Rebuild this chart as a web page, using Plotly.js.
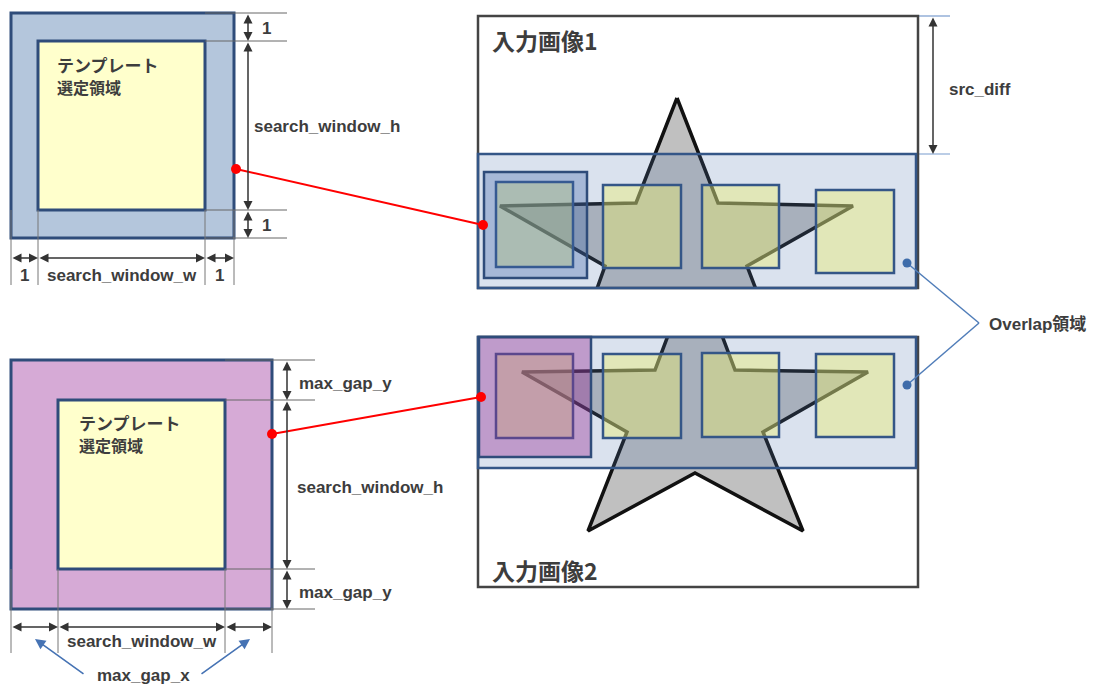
<!DOCTYPE html>
<html><head><meta charset="utf-8">
<script src="https://cdn.plot.ly/plotly-3.0.1.min.js"></script>
<style>html,body{margin:0;padding:0;background:#fff}#c{width:1096px;height:685px}</style>
</head><body><div id="c"></div>
<script>
// ---- diagram values (pixel-like units; y grows downward) ----
// rectangles as [x0, y0, x1, y1]
const tplOuterA = [11, 13, 234, 238];
const tplInnerA = [38, 41, 205, 210];
const tplOuterB = [11, 360, 272, 609];
const tplInnerB = [58, 400, 225, 569];
const img1 = [478, 16, 918, 288];
const img2 = [478, 337, 918, 587];
const overlap1 = [478, 154, 916, 288];
const overlap2 = [478, 337, 916, 468];
const win1 = [484, 172, 587, 278];
const win2 = [479, 337, 591, 457];
const tplX0 = [496, 603, 702, 816];
const tplX1 = [573, 681, 779, 894];
const tplY0img1 = [182, 185, 185, 190];
const tplY1img1 = [267, 268, 268, 273];
const tplY0img2 = [354, 354, 353, 354];
const tplY1img2 = [438, 438, 437, 437];
// star outlines
const star1X = [677, 718, 853, 747, 785, 677, 570, 605, 500, 636, 677];
const star1Y = [98, 203, 206, 266, 365, 307, 365, 266, 206, 203, 98];
const star2X = [695, 735, 868, 763, 803, 695, 588, 627, 522, 655, 695];
const star2Y = [264, 370, 372, 432, 531, 473, 531, 432, 372, 370, 264];
// dimension lines
const dimAx = [248, 248, 248];
const dimAy0 = [13, 41, 210];
const dimAy1 = [41, 210, 238];
const dimAxLabels = ['1', 'search_window_h', '1'];
const dimAhx0 = [11, 38, 205];
const dimAhx1 = [38, 205, 234];
const dimAhy = 258;
const dimAhLabels = ['1', 'search_window_w', '1'];
const dimBx = 287;
const dimBy0 = [360, 400, 569];
const dimBy1 = [400, 569, 609];
const dimBvLabels = ['max_gap_y', 'search_window_h', 'max_gap_y'];
const dimBhx0 = [11, 58, 225];
const dimBhx1 = [58, 225, 272];
const dimBhy = 627;
const srcDiff = [933, 16, 154];
// connectors
const redA = [[236, 169], [483, 225]];
const redB = [[272, 434], [481, 397]];
const blueDots = [[907, 263], [907, 385]];
const blueVertex = [979, 323];
const gapArrowTails = [[85, 675], [200, 675]];
const gapArrowHeads = [[35, 639], [250, 639]];

const NAVY = 'rgb(47,76,122)';
const TXT = '#3d3d3d';
const FONT = 'Liberation Sans, Arial, Noto Sans CJK JP, sans-serif';
const CJK = 'Noto Sans CJK JP, Liberation Sans, sans-serif';

const shapes = [];
function rect(r, fill, lc, lw) {
  shapes.push({type: 'rect', xref: 'x', yref: 'y', layer: 'above', x0: r[0], y0: r[1], x1: r[2], y1: r[3],
    fillcolor: fill, line: {color: lc, width: lw}});
}
function line(x0, y0, x1, y1, c, w) {
  shapes.push({type: 'line', xref: 'x', yref: 'y', layer: 'above', x0, y0, x1, y1, line: {color: c, width: w}});
}
function dot(p, r, c) {
  shapes.push({type: 'circle', xref: 'x', yref: 'y', layer: 'above', x0: p[0] - r, y0: p[1] - r, x1: p[0] + r, y1: p[1] + r,
    fillcolor: c, line: {width: 0}});
}

rect(tplOuterA, 'rgb(180,198,220)', NAVY, 3);
rect(tplInnerA, '#ffffcc', NAVY, 3);
rect(tplOuterB, 'rgb(214,170,214)', NAVY, 3);
rect(tplInnerB, '#ffffcc', NAVY, 3);

[tplOuterA[1], tplInnerA[1], tplInnerA[3], tplOuterA[3]].forEach(y => line(tplInnerA[2], y, 287, y, '#666', 1));
[tplOuterA[0], tplInnerA[0], tplInnerA[2], tplOuterA[2]].forEach(x => line(x, tplInnerA[3], x, 285, '#777', 1));
[tplOuterB[1], tplInnerB[1], tplInnerB[3], tplOuterB[3]].forEach(y => line(tplInnerB[2], y, 315, y, '#666', 1));
[tplOuterB[0], tplInnerB[0], tplInnerB[2], tplOuterB[2]].forEach(x => line(x, tplInnerB[3], x, 653, '#777', 1));
line(img1[2], srcDiff[1], 950, srcDiff[1], 'rgb(120,155,205)', 1.2);
line(overlap1[2], srcDiff[2], 950, srcDiff[2], 'rgb(120,155,205)', 1.2);

rect(img1, 'rgba(0,0,0,0)', '#444', 2.5);
rect(img2, 'rgba(0,0,0,0)', '#444', 2.5);
rect(overlap1, 'rgba(78,116,173,0.21)', 'rgb(52,86,135)', 2.5);
rect(overlap2, 'rgba(78,116,173,0.21)', 'rgb(52,86,135)', 2.5);
for (let i = 0; i < tplX0.length; i++) {
  rect([tplX0[i], tplY0img1[i], tplX1[i], tplY1img1[i]], 'rgba(235,238,110,0.42)', 'rgb(52,86,135)', 2.5);
  rect([tplX0[i], tplY0img2[i], tplX1[i], tplY1img2[i]], 'rgba(235,238,110,0.42)', 'rgb(52,86,135)', 2.5);
}
rect(win1, 'rgba(60,100,170,0.33)', 'rgb(47,76,122)', 2.5);
rect(win2, 'rgba(150,50,150,0.4)', 'rgb(47,76,122)', 2.5);

line(redA[0][0], redA[0][1], redA[1][0], redA[1][1], '#ff0000', 2);
line(redB[0][0], redB[0][1], redB[1][0], redB[1][1], '#ff0000', 2);
[redA[0], redA[1], redB[0], redB[1]].forEach(p => dot(p, 5, '#ff0000'));
blueDots.forEach(p => line(p[0], p[1], blueVertex[0], blueVertex[1], 'rgb(80,125,185)', 1.5));
blueDots.forEach(p => dot(p, 4.5, 'rgb(62,108,170)'));

const ann = [];
function arrow2(x0, y0, x1, y1) {
  ann.push({xref: 'x', yref: 'y', axref: 'x', ayref: 'y', x: x1, y: y1, ax: x0, ay: y0, text: '',
    showarrow: true, arrowside: 'end+start', arrowhead: 2, startarrowhead: 2, arrowsize: 1.2, startarrowsize: 1.2,
    arrowwidth: 1.5, arrowcolor: '#333', standoff: 0, startstandoff: 0});
}
function label(x, y, t, size, anchor, fam, yanchor) {
  ann.push({xref: 'x', yref: 'y', x, y, text: t, showarrow: false, xanchor: anchor || 'left', yanchor: yanchor || 'middle',
    align: 'left', font: {family: fam || FONT, size: size, color: TXT}});
}
const b = t => '<b>' + t + '</b>';
for (let i = 0; i < 3; i++) {
  arrow2(dimAx[i], dimAy0[i], dimAx[i], dimAy1[i]);
  label(i === 1 ? 252 : 260, (dimAy0[i] + dimAy1[i]) / 2 + 1, b(dimAxLabels[i]), 17);
  arrow2(dimAhx0[i], dimAhy, dimAhx1[i], dimAhy);
  label((dimAhx0[i] + dimAhx1[i]) / 2, 275, b(dimAhLabels[i]), 17, 'center');
  arrow2(dimBx, dimBy0[i], dimBx, dimBy1[i]);
  label(i === 1 ? 295 : 297, (dimBy0[i] + dimBy1[i]) / 2 + 3, b(dimBvLabels[i]), 17);
  arrow2(dimBhx0[i], dimBhy, dimBhx1[i], dimBhy);
}
label(142, 641, b('search_window_w'), 17, 'center');
label(143, 675, b('max_gap_x'), 17, 'center');
arrow2(srcDiff[0], srcDiff[1], srcDiff[0], srcDiff[2]);
label(947, 89, b('src_diff'), 17);
label(987, 324, b('Overlap領域'), 17);
const tplText = b('テンプレート') + '<br>' + b('<span style="font-size:16px">選定領域</span>');
label(55, 50, tplText, 17, 'left', CJK, 'top');
label(77, 408, tplText, 17, 'left', CJK, 'top');
label(490, 40, b('入力画像1'), 23, 'left', CJK);
label(490, 570, b('入力画像2'), 23, 'left', CJK);
for (let i = 0; i < 2; i++) {
  ann.push({xref: 'x', yref: 'y', axref: 'x', ayref: 'y', x: gapArrowHeads[i][0], y: gapArrowHeads[i][1],
    ax: gapArrowTails[i][0], ay: gapArrowTails[i][1], text: '', showarrow: true, arrowhead: 2, arrowsize: 1.3,
    arrowwidth: 1.6, arrowcolor: 'rgb(70,115,180)', standoff: 0});
}

const starStyle = {type: 'scatter', mode: 'lines', fill: 'toself', fillcolor: '#c0c0c0',
  line: {color: '#111', width: 3.5}, hoverinfo: 'skip', showlegend: false};
const traces = [
  Object.assign({}, starStyle, {x: star1X, y: star1Y, xaxis: 'x2', yaxis: 'y2'}),
  Object.assign({}, starStyle, {x: star2X, y: star2Y, xaxis: 'x3', yaxis: 'y3'})
];
const W = 1096, H = 685;
const hid = {visible: false, fixedrange: true, showgrid: false, zeroline: false};
const layout = {
  width: W, height: H, margin: {l: 0, r: 0, t: 0, b: 0},
  paper_bgcolor: '#fff', plot_bgcolor: 'rgba(0,0,0,0)', showlegend: false,
  xaxis: Object.assign({range: [0, W], domain: [0, 1]}, hid),
  yaxis: Object.assign({range: [H, 0], domain: [0, 1]}, hid),
  xaxis2: Object.assign({range: [img1[0], img1[2]], domain: [img1[0] / W, img1[2] / W], anchor: 'y2'}, hid),
  yaxis2: Object.assign({range: [img1[3], img1[1]], domain: [1 - img1[3] / H, 1 - img1[1] / H], anchor: 'x2'}, hid),
  xaxis3: Object.assign({range: [img2[0], img2[2]], domain: [img2[0] / W, img2[2] / W], anchor: 'y3'}, hid),
  yaxis3: Object.assign({range: [img2[3], img2[1]], domain: [1 - img2[3] / H, 1 - img2[1] / H], anchor: 'x3'}, hid),
  shapes: shapes, annotations: ann
};
Plotly.newPlot('c', traces, layout, {staticPlot: true, displayModeBar: false});
</script></body></html>
